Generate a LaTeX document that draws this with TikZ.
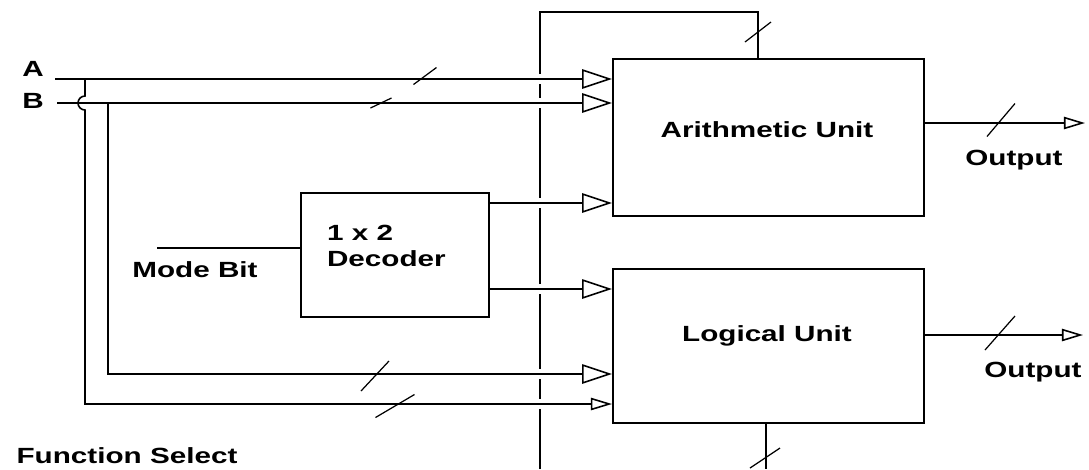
\documentclass[tikz,border=0pt]{standalone}
\usepackage{fontspec}
\setmainfont{Liberation Sans}
\usetikzlibrary{arrows.meta,positioning,calc}

\begin{document}
\begin{tikzpicture}[
  x=0.2mm, y=-0.2mm,
  line width=0.9pt,
  unitbox/.style={draw, rectangle, anchor=north west, inner sep=0pt},
  lbl/.style={font=\fontsize{12.5}{15}\selectfont\bfseries, xscale=1.35, inner sep=0pt},
  bigin/.style={-{Triangle[open, length=17pt, width=11pt]}},
  smallin/.style={-{Triangle[open, length=12pt, width=7pt]}},
  busmark/.style={line width=0.7pt}
]
  \useasboundingbox (0,0) rectangle (1089,469);

  % the three blocks
  \node[unitbox, minimum width=62.2mm, minimum height=31.4mm] (arith) at (612,58) {};
  \node[unitbox, minimum width=62.2mm, minimum height=30.8mm] (logic) at (612,268) {};
  \node[unitbox, minimum width=37.6mm, minimum height=24.8mm] (dec) at (300,192) {};

  \node[lbl] (arithtxt) at (767,130) {Arithmetic Unit};
  \node[lbl] (logictxt) at (767,336) {Logical Unit};
  \node[lbl, align=left, anchor=west] (dectxt) at (326,246) {1 x 2\\Decoder};

  \node[lbl] (la) at (33,69) {A};
  \node[lbl] (lb) at (33,101) {B};
  \node[lbl] (mode) at (195,270) {Mode Bit};
  \node[lbl] (out1) at (1014,160) {Output};
  \node[lbl] (out2) at (1033,372) {Output};
  \node[lbl] (fsel) at (127,456) {Function Select};

  % wire end points
  \coordinate (ain) at (55,79);
  \coordinate (bin) at (57,103);
  \coordinate (adrop) at (85,79);
  \coordinate (bdrop) at (108,103);
  \coordinate (lga) at ($(logic.north west)+(0,136)$);
  \coordinate (lgb) at ($(logic.north west)+(0,106)$);
  \coordinate (d1) at ($(dec.north east)+(0,11)$);
  \coordinate (d2) at ($(dec.north east)+(0,97)$);
  \coordinate (mb) at (157,248);
  \coordinate (bustop) at (540,12);
  \coordinate (busbot) at (540,469);
  \coordinate (atap) at ($(arith.north west)+(146,0)$);
  \coordinate (ltap) at ($(logic.south west)+(154,0)$);
  \coordinate (oa) at (1085,123);
  \coordinate (ol) at (1083,335);

  % function select bus, broken where wires pass
  \draw (busbot) -- (bustop) -| (atap);
  \draw (ltap) -- (ltap |- busbot);
  \foreach \gy in {79,103,203,289,374,404}
    \fill[white] (534,\gy-5) rectangle (546,\gy+5);

  % inputs
  \draw[bigin] (ain) -- (ain -| arith.west);
  \draw[bigin] (bin) -- (bin -| arith.west);
  \draw[bigin] (bdrop) |- (lgb);
  \draw[smallin] (adrop) -- ++(0,17) arc[start angle=270, end angle=90, radius=7] |- (lga);
  \draw (mb) -- (mb -| dec.west);
  \draw[bigin] (d1) -- (d1 -| arith.west);
  \draw[bigin] (d2) -- (d2 -| logic.west);

  % outputs
  \draw[smallin] (oa -| arith.east) -- (oa);
  \draw[smallin] (ol -| logic.east) -- (ol);

  % bus width marks
  \foreach \cx/\cy/\dx/\dy in {425/76/23/17, 381/103/21/10, 758/32/26/20,
      1001/120/28/33, 1000/333/30/34, 375/376/28/30, 395/406/39/23, 765/458/30/20}
    \draw[busmark] (\cx-\dx/2,\cy+\dy/2) -- (\cx+\dx/2,\cy-\dy/2);
\end{tikzpicture}
\end{document}
